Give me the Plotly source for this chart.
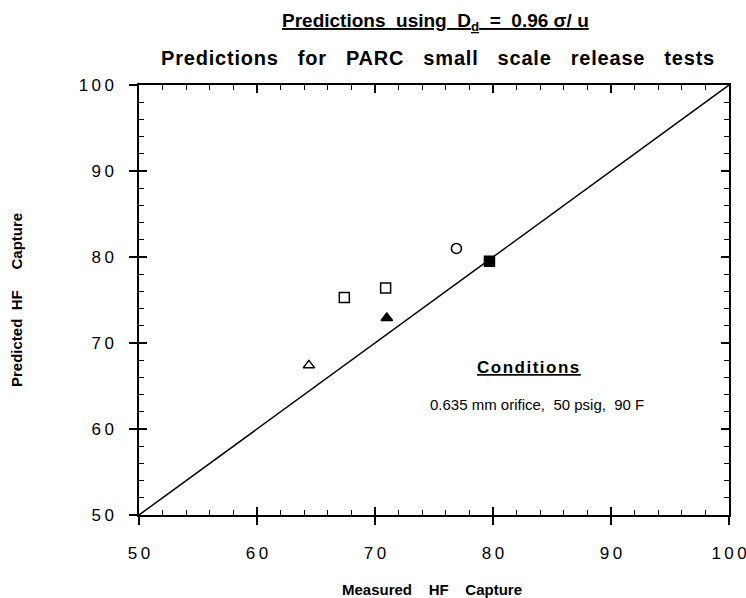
import plotly.graph_objects as go

# Data
measured = [64.4, 67.4, 70.9, 71.0, 76.9, 79.7]
predicted = [67.4, 75.3, 76.4, 72.9, 81.0, 79.5]
symbols = ["triangle-up-open", "square-open", "square-open", "triangle-up", "circle-open", "square"]
parity = [50, 100]
tick_vals = [50, 60, 70, 80, 90, 100]
tick_text = ["5\u20090", "6\u20090", "7\u20090", "8\u20090", "9\u20090", "1\u20090\u20090"]

FONT = "Liberation Sans, Arial, sans-serif"
NB = "\u00a0"


def ls(text, px):
    return '<span style="letter-spacing:%spx">%s</span>' % (px, text)


fig = go.Figure()
fig.add_trace(go.Scatter(x=parity, y=parity, mode="lines", xaxis="x2", yaxis="y2",
                         line=dict(color="black", width=1.5), showlegend=False))
fig.add_trace(go.Scatter(x=measured, y=predicted, mode="markers",
                         marker=dict(symbol=symbols, size=10, color="black",
                                     line=dict(color="black", width=1.5)),
                         showlegend=False))

common = dict(range=[50, 100], showgrid=False, zeroline=False, automargin=False,
              linecolor="black", linewidth=1.5)

fig.update_layout(
    width=746, height=598,
    margin=dict(l=139, r=17, t=85, b=83),
    paper_bgcolor="white", plot_bgcolor="white",
    font=dict(family=FONT, color="black"),
    xaxis=dict(**common, showline=True, mirror=True, ticks="outside", ticklen=8,
               tickwidth=1.5, tickcolor="black", tickvals=tick_vals, ticktext=tick_text,
               tickfont=dict(size=17, family=FONT), ticklabelstandoff=14,
               ticklabeloverflow="allow"),
    yaxis=dict(**common, showline=True, mirror=True, ticks="outside", ticklen=8,
               tickwidth=1.5, tickcolor="black", tickvals=tick_vals, ticktext=tick_text,
               tickfont=dict(size=17, family=FONT), ticklabelstandoff=12,
               ticklabeloverflow="allow"),
    xaxis2=dict(**common, overlaying="x", anchor="y2", side="bottom", showline=True,
                mirror="ticks", ticks="inside", ticklen=8, tickwidth=1.5, tickcolor="black",
                tickvals=tick_vals, showticklabels=False,
                minor=dict(ticks="inside", ticklen=5, tickwidth=1.2, tickcolor="black", dtick=2)),
    yaxis2=dict(**common, overlaying="y", anchor="x2", side="left", showline=True,
                mirror="ticks", ticks="inside", ticklen=8, tickwidth=1.5, tickcolor="black",
                tickvals=tick_vals, showticklabels=False,
                minor=dict(ticks="inside", ticklen=5, tickwidth=1.2, tickcolor="black", dtick=2)),
)

title1 = ("<b><u>Predictions" + NB + " using" + NB*2 + "D<sub>d</sub>" + NB*2 + "=" +
          NB*2 + "0.96" + NB + "σ/" + NB + "u</u></b>")
title2 = "<b>" + ls((NB*3).join(["Predictions", "for", "PARC", "small", "scale", "release", "tests"]), 0.8) + "</b>"

annotations = [
    dict(text=title1, xref="paper", yref="paper", x=0.503, y=1, yshift=63, showarrow=False,
         font=dict(size=19, family=FONT), xanchor="center", yanchor="middle"),
    dict(text=title2, xref="paper", yref="paper", x=0.507, y=1, yshift=27, showarrow=False,
         font=dict(size=20, family=FONT), xanchor="center", yanchor="middle"),
    dict(text="<b>Predicted" + NB*2 + "HF" + NB*5 + "Capture</b>", textangle=-90,
         xref="paper", yref="paper", x=0, y=0.5, xshift=-123, showarrow=False,
         font=dict(size=15, family=FONT), xanchor="center", yanchor="middle"),
    dict(text="<b>Measured" + NB*4 + "HF" + NB*4 + "Capture</b>",
         xref="paper", yref="paper", x=0.496, y=0, yshift=-74, showarrow=False,
         font=dict(size=15, family=FONT), xanchor="center", yanchor="middle"),
    dict(text="<b><u>" + ls("Conditions", 1.5) + "</u></b>", xref="x", yref="y", x=83.05, y=67.1,
         showarrow=False, font=dict(size=17, family=FONT), xanchor="center", yanchor="middle"),
    dict(text="0.635 mm orifice," + NB*2 + "50 psig," + NB*2 + "90 F", xref="x", yref="y",
         x=83.7, y=62.8, showarrow=False, font=dict(size=15, family=FONT),
         xanchor="center", yanchor="middle"),
]
fig.update_layout(annotations=annotations)

fig.write_html("out.html")
